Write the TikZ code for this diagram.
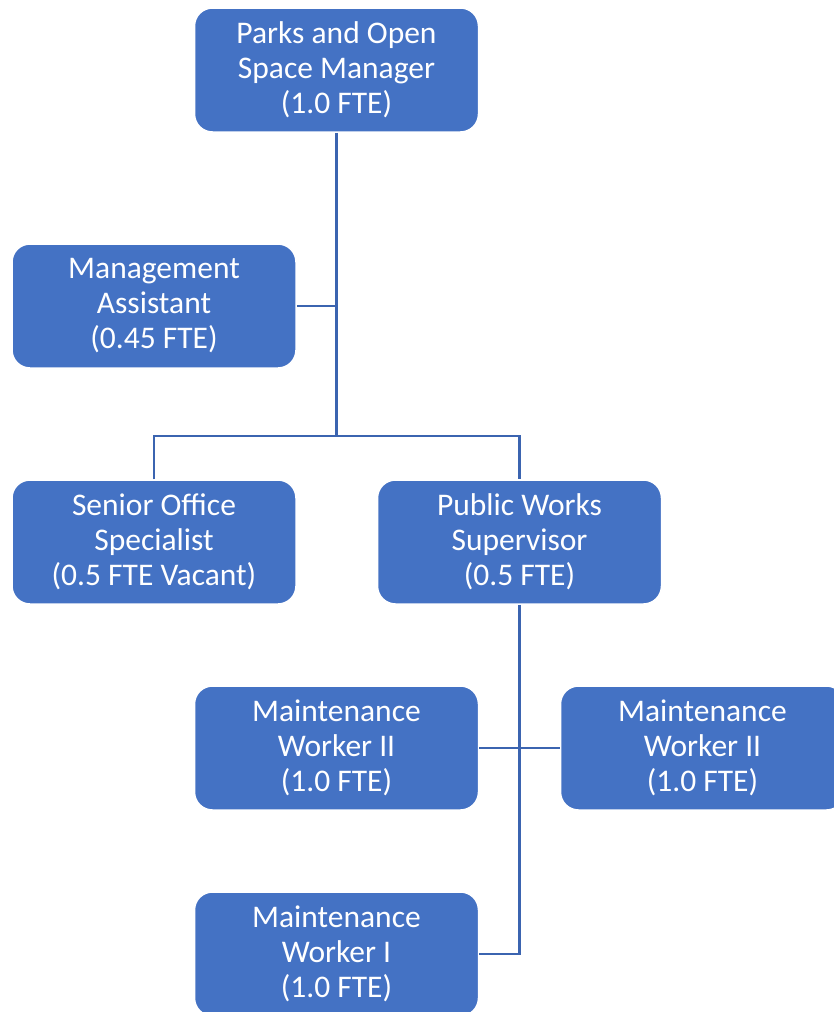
\documentclass[tikz,border=0pt]{standalone}
\usepackage{fontspec}
\setmainfont{Carlito}
\usepackage{xcolor}
\definecolor{boxblue}{HTML}{4472C4}
\definecolor{lineblue}{HTML}{3B64B0}

\begin{document}
\begin{tikzpicture}[x=1pt,y=-1pt,
  post/.style={draw=white, line width=1.5pt, fill=boxblue, rounded corners=18pt,
    minimum width=284pt, minimum height=124pt, text=white, align=center,
    font=\fontsize{31.5}{35}\selectfont},
  link/.style={draw=lineblue, line width=2.5pt}]
          \useasboundingbox (0,0) rectangle (833,1012);

          \coordinate (j1) at (336.5,436);

          \node[post] (mgr)  at (336.5,70)  {Parks and Open\\Space Manager\\(1.0 FTE)};
          \node[post] (asst) at (154,306)   {Management\\Assistant\\(0.45 FTE)};
          \node[post] (sos)  at (154,542)   {Senior Office\\Specialist\\(0.5 FTE Vacant)};
          \node[post] (pws)  at (519.5,542) {Public Works\\Supervisor\\(0.5 FTE)};
          \node[post] (mw2a) at (336.5,748) {Maintenance\\Worker II\\(1.0 FTE)};
          \node[post] (mw2b) at (702.5,748) {Maintenance\\Worker II\\(1.0 FTE)};
          \node[post] (mw1)  at (336.5,954) {Maintenance\\Worker I\\(1.0 FTE)};

          \draw[link] (mgr.south) -- (j1);
          \draw[link] (asst.east) -- (asst.east -| j1);
          \draw[link] (sos.north) |- (j1) -| (pws.north);
          \draw[link] (pws.south) |- (mw1.east);
          \draw[link] (mw2a.east) -- (mw2b.west);

          \end{tikzpicture}
\end{document}
